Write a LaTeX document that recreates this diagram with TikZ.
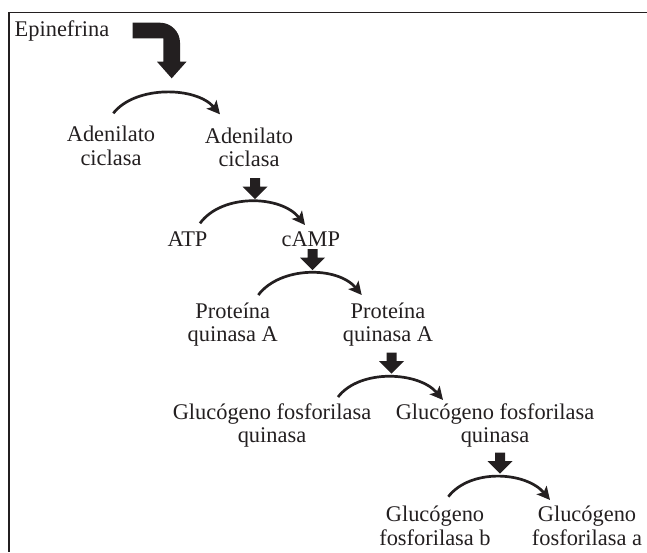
\documentclass[tikz,border=0pt]{standalone}
\usepackage{fontspec}
\setmainfont{Liberation Serif}
\usetikzlibrary{arrows.meta}
\definecolor{ink}{HTML}{231F20}
\tikzset{
  lbl/.style={font=\fontsize{22.4}{23.5}\selectfont, text=ink, inner sep=0pt, align=center, anchor=base},
  curvearrow/.style={draw=ink, line width=2.7pt, -{Stealth[length=13pt,width=13pt,inset=3pt]}},
  blockarrow/.pic={\fill[ink] (-5,0) -- (5,0) -- (5,8.7) -- (12.5,8.7) -- (0,21) -- (-12.5,8.7) -- (-5,8.7) -- cycle;}
}
\begin{document}
\begin{tikzpicture}[x=1pt,y=-1pt]
\useasboundingbox (0,0) rectangle (647,552);
% frame
\draw[ink, line width=1.5pt] (647,12.5) -- (9,12.5) -- (9,552);

% labels (base anchor = baseline of last line)
\node[lbl, anchor=base west] (epi) at (14.5,36.7) {Epinefrina};
\node[lbl] (adL) at (111,165.2) {Adenilato\\ciclasa};
\node[lbl] (adR) at (249,166.8) {Adenilato\\ciclasa};
\node[lbl] (atp) at (187.5,246.7) {ATP};
\node[lbl] (camp) at (310.8,246.7) {cAMP};
\node[lbl] (pkL) at (232.8,341.8) {Proteína\\quinasa A};
\node[lbl] (pkR) at (388,341.8) {Proteína\\quinasa A};
\node[lbl] (gpkL) at (272,442.5) {Glucógeno fosforilasa\\quinasa};
\node[lbl] (gpkR) at (495,442.5) {Glucógeno fosforilasa\\quinasa};
\node[lbl] (gpb) at (435,545.2) {Glucógeno\\fosforilasa b};
\node[lbl] (gpa) at (587,545.2) {Glucógeno\\fosforilasa a};

% big bent arrow from Epinefrina
\fill[ink] (132.7,22.7) -- (160,22.7) .. controls (171,22.7) and (180,31.7) .. (180,42.7)
  -- (180,61.7) -- (186.5,61.7) -- (171.7,78.3) -- (157,61.7) -- (163.3,61.7)
  -- (163.3,38.3) -- (132.7,38.3) -- cycle;

% small block arrows
\pic at (255,178) {blockarrow};
\pic at (312.5,249) {blockarrow};
\pic at (391.5,352.5) {blockarrow};
\pic at (500,452.5) {blockarrow};

% curved arrows
\coordinate (s1) at (113.3,113.3); \coordinate (e1) at (220,114.3);
\coordinate (s2) at (200,223.3);   \coordinate (e2) at (305,225);
\coordinate (s3) at (258.3,295);   \coordinate (e3) at (361.7,295);
\coordinate (s4) at (338,397);     \coordinate (e4) at (443,400);
\coordinate (s5) at (448.3,496.7); \coordinate (e5) at (550,500);
\draw[curvearrow] (s1) .. controls +(22,-28) and +(-24,-28) .. (e1);
\draw[curvearrow] (s2) .. controls +(22,-30) and +(-24,-30) .. (e2);
\draw[curvearrow] (s3) .. controls +(22,-29) and +(-24,-29) .. (e3);
\draw[curvearrow] (s4) .. controls +(22,-28.5) and +(-24,-28.5) .. (e4);
\draw[curvearrow] (s5) .. controls +(22,-28.5) and +(-24,-28.5) .. (e5);
\end{tikzpicture}
\end{document}
